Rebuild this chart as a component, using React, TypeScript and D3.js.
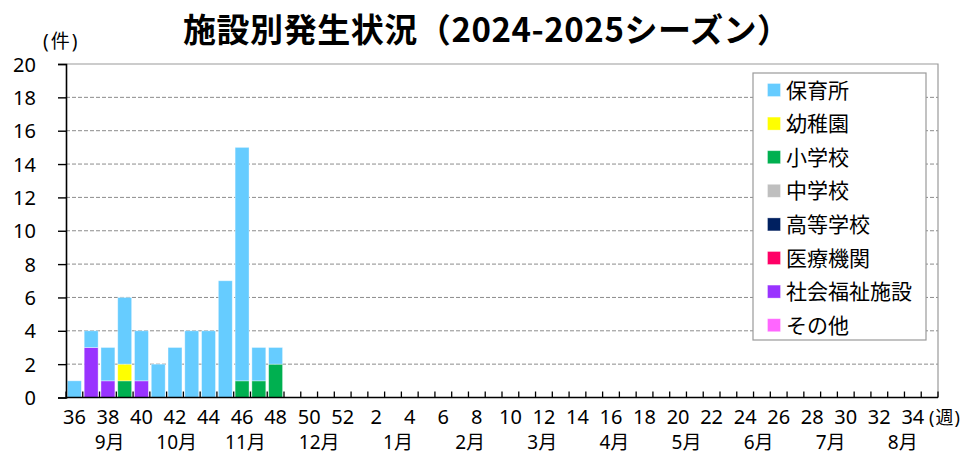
import { useLayoutEffect, useRef } from 'react'
import * as d3 from 'd3'

// 36週〜翌35週 (52週)
const WEEKS = [
  36, 37, 38, 39, 40, 41, 42, 43, 44, 45, 46, 47, 48, 49, 50, 51, 52,
  1, 2, 3, 4, 5, 6, 7, 8, 9, 10, 11, 12, 13, 14, 15, 16, 17, 18, 19, 20,
  21, 22, 23, 24, 25, 26, 27, 28, 29, 30, 31, 32, 33, 34, 35,
]

// 報告のある週 (36〜48週)
const HOIKUSHO = [1, 1, 2, 4, 3, 2, 3, 4, 4, 7, 14, 2, 1]
const YOCHIEN = [0, 0, 0, 1, 0, 0, 0, 0, 0, 0, 0, 0, 0]
const SHOGAKKO = [0, 0, 0, 1, 0, 0, 0, 0, 0, 0, 1, 1, 2]
const CHUGAKKO = [0, 0, 0, 0, 0, 0, 0, 0, 0, 0, 0, 0, 0]
const KOTOGAKKO = [0, 0, 0, 0, 0, 0, 0, 0, 0, 0, 0, 0, 0]
const IRYO = [0, 0, 0, 0, 0, 0, 0, 0, 0, 0, 0, 0, 0]
const FUKUSHI = [0, 3, 1, 0, 1, 0, 0, 0, 0, 0, 0, 0, 0]
const SONOTA = [0, 0, 0, 0, 0, 0, 0, 0, 0, 0, 0, 0, 0]

const Y_TICKS = [0, 2, 4, 6, 8, 10, 12, 14, 16, 18, 20]

const MONTHS = ['9月', '10月', '11月', '12月', '1月', '2月', '3月', '4月', '5月', '6月', '7月', '8月']
// 月ラベルの位置 (シーズン開始からの週数)
const MONTH_MID = [2.6, 6.6, 10.7, 15.1, 19.8, 24.1, 28.4, 32.7, 37.0, 41.3, 45.6, 49.9]

// 凡例の順 (上から)。積み上げは逆順
const SERIES = [
  { name: '保育所', values: HOIKUSHO, color: '#66ccff' },
  { name: '幼稚園', values: YOCHIEN, color: '#ffff00' },
  { name: '小学校', values: SHOGAKKO, color: '#00b050' },
  { name: '中学校', values: CHUGAKKO, color: '#bfbfbf' },
  { name: '高等学校', values: KOTOGAKKO, color: '#002060' },
  { name: '医療機関', values: IRYO, color: '#ff0066' },
  { name: '社会福祉施設', values: FUKUSHI, color: '#9933ff' },
  { name: 'その他', values: SONOTA, color: '#ff66ff' },
]

const FONT = "'Noto Sans', 'Noto Sans CJK JP', sans-serif"
const JP = "'Noto Sans CJK JP', sans-serif"

export default function App() {
  const ref = useRef<HTMLDivElement>(null)

  useLayoutEffect(() => {
    if (!ref.current) return
    const el = ref.current
    el.innerHTML = ''

    const width = 968
    const height = 459
    const left = 66
    const right = 938
    const top = 64
    const bottom = 397.5

    const svg = d3
      .select(el)
      .append('svg')
      .attr('width', width)
      .attr('height', height)
      .style('display', 'block')
      .style('font-family', FONT)

    svg.append('rect').attr('width', width).attr('height', height).attr('fill', '#fff')

    const x = d3
      .scaleBand<string>()
      .domain(WEEKS.map(String))
      .range([left, right])
      .paddingInner(0.17)
      .paddingOuter(0.085)
    const xi = d3.scaleLinear().domain([0, WEEKS.length]).range([left, right])
    const y = d3.scaleLinear().domain([0, 20]).range([bottom, top])

    // table rows
    const rows = HOIKUSHO.map((_, i) => {
      const row: Record<string, number | string> = { week: String(WEEKS[i]) }
      SERIES.forEach((s) => (row[s.name] = s.values[i]))
      return row
    })
    const stackKeys = SERIES.map((s) => s.name).reverse()
    const stacked = d3
      .stack<Record<string, number | string>>()
      .keys(stackKeys)
      .order(d3.stackOrderNone)(rows)

    // gridlines
    svg
      .append('g')
      .selectAll('line')
      .data(Y_TICKS.filter((t) => t > 0 && t < 20))
      .join('line')
      .attr('x1', left)
      .attr('x2', right)
      .attr('y1', (d) => y(d))
      .attr('y2', (d) => y(d))
      .attr('stroke', '#8c8c8c')
      .attr('stroke-width', 1)
      .attr('stroke-dasharray', '4,2')

    // plot border top & right
    svg
      .append('path')
      .attr('d', `M${left},${y(20)}H${right}V${bottom}`)
      .attr('fill', 'none')
      .attr('stroke', '#9a9a9a')
      .attr('stroke-width', 1.2)

    // bars
    const colorOf = (name: string) => SERIES.find((s) => s.name === name)!.color
    stacked.forEach((layer) => {
      svg
        .append('g')
        .selectAll('rect')
        .data(layer.filter((d) => d[1] - d[0] > 0))
        .join('rect')
        .attr('x', (d) => x(String(d.data.week))!)
        .attr('y', (d) => y(d[1]))
        .attr('width', x.bandwidth())
        .attr('height', (d) => y(d[0]) - y(d[1]))
        .attr('fill', colorOf(layer.key))
        .attr('stroke', '#ffffff')
        .attr('stroke-opacity', 0.45)
        .attr('stroke-width', 0.8)
    })

    // y axis
    const yAxis = svg
      .append('g')
      .attr('transform', `translate(${left},0)`)
      .call(d3.axisLeft(y).tickValues(Y_TICKS).tickSize(8).tickPadding(22))
    yAxis.select('.domain').attr('stroke', '#000').attr('stroke-width', 1.6)
    yAxis.selectAll('.tick line').attr('stroke', '#000').attr('stroke-width', 1.4)
    yAxis
      .selectAll('.tick text')
      .attr('fill', '#000')
      .attr('font-size', 20)
      .attr('font-family', FONT)
      .attr('dy', '0.35em')

    // x axis line and inner ticks at category boundaries
    svg
      .append('line')
      .attr('x1', left)
      .attr('x2', right)
      .attr('y1', bottom)
      .attr('y2', bottom)
      .attr('stroke', '#000')
      .attr('stroke-width', 1.6)
    svg
      .append('g')
      .selectAll('line')
      .data(d3.range(WEEKS.length + 1))
      .join('line')
      .attr('x1', (d) => xi(d))
      .attr('x2', (d) => xi(d))
      .attr('y1', bottom)
      .attr('y2', bottom - 6)
      .attr('stroke', '#000')
      .attr('stroke-width', 1.3)

    // week labels (every other week)
    svg
      .append('g')
      .selectAll('text')
      .data(WEEKS.filter((_, i) => i % 2 === 0))
      .join('text')
      .attr('x', (d) => x(String(d))! + x.bandwidth() / 2)
      .attr('y', 424)
      .attr('text-anchor', 'middle')
      .attr('font-size', 20)
      .attr('fill', '#000')
      .text((d) => d)

    // month labels
    svg
      .append('g')
      .selectAll('text')
      .data(MONTHS)
      .join('text')
      .attr('x', (_, i) => xi(MONTH_MID[i]))
      .attr('y', 449)
      .attr('text-anchor', 'middle')
      .attr('font-size', 19)
      .attr('fill', '#000')
      .text((d) => d)

    // unit labels
    svg
      .append('text')
      .attr('x', 43)
      .attr('y', 48)
      .attr('font-size', 19)
      .attr('letter-spacing', 2)
      .text('(件)')
    svg
      .append('text')
      .attr('x', 929)
      .attr('y', 424)
      .attr('font-size', 18)
      .attr('letter-spacing', 1)
      .text('(週)')

    // title
    svg
      .append('text')
      .attr('x', 183)
      .attr('y', 42)
      .attr('font-size', 33)
      .attr('font-weight', 700)
      .attr('font-family', JP)
      .attr('textLength', 607)
      .attr('lengthAdjust', 'spacing')
      .text('施設別発生状況（2024-2025シーズン）')

    // legend
    const lg = svg.append('g').attr('transform', 'translate(753,73)')
    lg.append('rect')
      .attr('width', 173)
      .attr('height', 267)
      .attr('fill', '#fff')
      .attr('stroke', '#9a9a9a')
      .attr('stroke-width', 1.2)
    const item = lg
      .selectAll('g.item')
      .data(SERIES)
      .join('g')
      .attr('class', 'item')
      .attr('transform', (_, i) => `translate(0,${17 + i * 33.6})`)
    item
      .append('rect')
      .attr('x', 14.5)
      .attr('y', -6.5)
      .attr('width', 13)
      .attr('height', 13)
      .attr('fill', (d) => d.color)
      .attr('stroke', '#ffffff')
      .attr('stroke-opacity', 0.4)
      .attr('stroke-width', 0.8)
    item
      .append('text')
      .attr('x', 33)
      .attr('y', 0)
      .attr('dy', '0.36em')
      .attr('font-size', 21)
      .attr('font-family', JP)
      .attr('fill', '#000')
      .text((d) => d.name)
  }, [])

  return <div ref={ref} style={{ position: 'absolute', left: 0, top: 0 }} />
}
